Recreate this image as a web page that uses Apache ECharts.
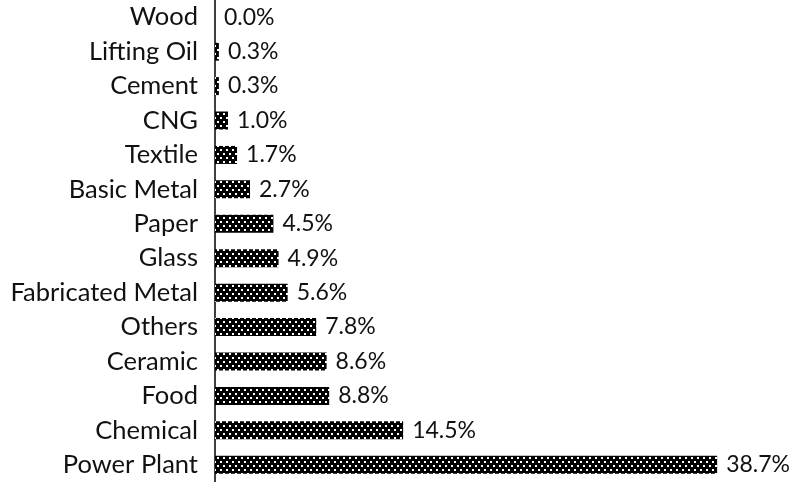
<!DOCTYPE html>
<html><head><meta charset="utf-8">
<script src="https://cdn.jsdelivr.net/npm/echarts@6/dist/echarts.min.js"></script>
<style>html,body{margin:0;padding:0;background:#fff}#c{width:791px;height:482px}</style>
</head><body><div id="c"></div>
<script>
const categories = ["Wood","Lifting Oil","Cement","CNG","Textile","Basic Metal","Paper","Glass","Fabricated Metal","Others","Ceramic","Food","Chemical","Power Plant"];
const values = [0.0,0.3,0.3,1.0,1.7,2.7,4.5,4.9,5.6,7.8,8.6,8.8,14.5,38.7];

const tile = document.createElement('canvas');
tile.width = 6; tile.height = 8;
const g = tile.getContext('2d');
g.fillStyle = '#000'; g.fillRect(0,0,6,8);
g.fillStyle = '#fff';
g.fillRect(1,1,2,2);
g.fillRect(4,5,2,2);

const chart = echarts.init(document.getElementById('c'), null, {renderer:'canvas'});
chart.setOption({
  animation:false,
  grid:{left:215,right:57,top:0,bottom:-2,containLabel:false},
  xAxis:{type:'value',min:0,max:40,show:false},
  yAxis:{type:'category',data:categories,inverse:true,
    axisLine:{show:true,lineStyle:{color:'#000',width:1.5}},
    axisTick:{show:false},
    axisLabel:{color:'#111',fontFamily:'Lato',fontSize:25.5,margin:17}},
  series:[{type:'bar',data:values,barWidth:18,
    itemStyle:{color:{image:tile,repeat:'repeat'}},
    label:{show:true,position:'right',distance:9,color:'#111',fontFamily:'Lato',fontSize:23,
      formatter:p=>p.value.toFixed(1)+'%'}}]
});
</script></body></html>
